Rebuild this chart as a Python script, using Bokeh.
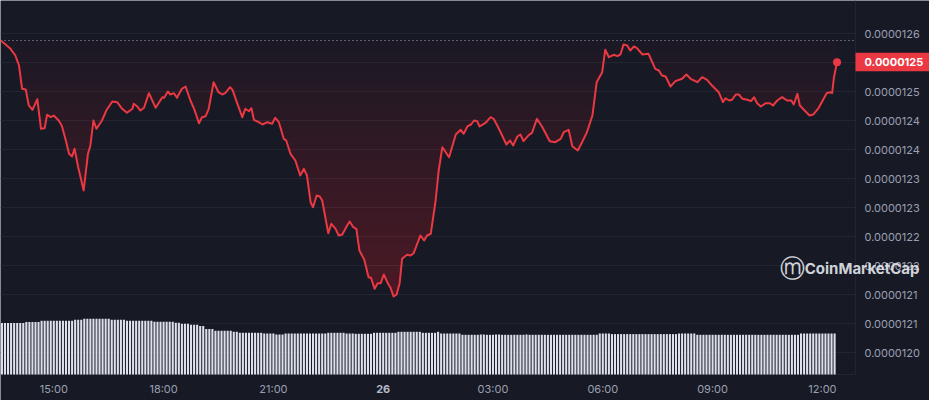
import numpy as np
from bokeh.plotting import figure
from bokeh.models import Range1d, Label
from bokeh.embed import file_html
from bokeh.resources import INLINE
from bokeh.core.properties import value

# ---------------- data ----------------
PRICE_UNIT = 1e-7  # prices below are in units of 1e-7

times = [
    "13:33", "13:41", "13:49", "13:57", "14:03", "14:08", "14:14", "14:19", "14:25", "14:33",
    "14:39", "14:45", "14:49", "14:55", "15:00", "15:08", "15:13", "15:19", "15:25", "15:30",
    "15:34", "15:40", "15:49", "15:56", "16:00", "16:05", "16:10", "16:19", "16:26", "16:36",
    "16:44", "16:52", "17:00", "17:09", "17:11", "17:17", "17:22", "17:28", "17:36", "17:47",
    "17:58", "18:01", "18:07", "18:11", "18:17", "18:22", "18:30", "18:36", "18:44", "18:50",
    "18:58", "19:03", "19:09", "19:14", "19:22", "19:30", "19:36", "19:41", "19:49", "19:53",
    "20:01", "20:09", "20:14", "20:20", "20:24", "20:28", "20:36", "20:42", "20:50", "20:58",
    "21:03", "21:09", "21:17", "21:21", "21:28", "21:36", "21:44", "21:50", "21:55", "22:01",
    "22:05", "22:11", "22:16", "22:20", "22:30", "22:35", "22:42", "22:47", "22:53", "23:00",
    "23:05", "23:11", "23:16", "23:21", "23:29", "23:36", "23:40", "23:46", "23:51", "23:56",
    "00:01", "00:08", "00:12", "00:17", "00:22", "00:27", "00:31", "00:39", "00:45", "00:50",
    "01:01", "01:07", "01:12", "01:18", "01:26", "01:31", "01:37", "01:48", "01:59", "02:07",
    "02:12", "02:18", "02:24", "02:29", "02:34", "02:38", "02:45", "02:49", "02:56", "03:01",
    "03:07", "03:15", "03:22", "03:28", "03:33", "03:40", "03:45", "03:50", "03:59", "04:04",
    "04:12", "04:21", "04:33", "04:42", "04:51", "04:56", "05:04", "05:10", "05:19", "05:26",
    "05:34", "05:43", "05:50", "05:59", "06:04", "06:10", "06:18", "06:24", "06:29", "06:34",
    "06:40", "06:45", "06:51", "06:56", "07:05", "07:15", "07:26", "07:32", "07:37", "07:43",
    "07:51", "07:59", "08:10", "08:17", "08:24", "08:35", "08:43", "08:51", "08:59", "09:10",
    "09:17", "09:21", "09:27", "09:32", "09:38", "09:43", "09:49", "09:57", "10:03", "10:08",
    "10:13", "10:19", "10:27", "10:34", "10:39", "10:46", "10:54", "11:02", "11:09", "11:13",
    "11:19", "11:23", "11:32", "11:39", "11:45", "11:54", "12:07", "12:12", "12:16", "12:19",
    "12:24",
]

prices_e7 = [
    125.879, 125.810, 125.736, 125.621, 125.448, 125.047, 125.034, 124.759, 124.684, 124.867,
    124.357, 124.367, 124.598, 124.557, 124.586, 124.500, 124.414, 124.184, 123.926, 123.879,
    124.012, 123.695, 123.293, 123.926, 124.069, 124.500, 124.357, 124.500, 124.672, 124.828,
    124.816, 124.702, 124.633, 124.702, 124.788, 124.741, 124.672, 124.719, 124.971, 124.719,
    124.902, 124.891, 125.000, 124.948, 124.971, 124.891, 125.047, 125.086, 124.845, 124.702,
    124.453, 124.557, 124.574, 124.702, 125.160, 124.988, 124.948, 124.971, 125.074, 125.029,
    124.788, 124.557, 124.702, 124.660, 124.712, 124.512, 124.471, 124.431, 124.471, 124.443,
    124.547, 124.471, 124.184, 124.155, 123.926, 123.810, 123.552, 123.667, 123.552, 123.091,
    123.005, 123.207, 123.190, 123.121, 122.557, 122.719, 122.633, 122.517, 122.534, 122.672,
    122.759, 122.660, 122.633, 122.259, 122.098, 121.798, 121.788, 121.598, 121.695, 121.695,
    121.845, 121.684, 121.616, 121.466, 121.500, 121.695, 122.116, 122.184, 122.172, 122.212,
    122.517, 122.431, 122.517, 122.547, 123.121, 123.638, 124.040, 123.867, 124.259, 124.340,
    124.271, 124.397, 124.431, 124.500, 124.488, 124.397, 124.443, 124.471, 124.557, 124.529,
    124.414, 124.241, 124.086, 124.155, 124.069, 124.224, 124.259, 124.143, 124.253, 124.288,
    124.529, 124.384, 124.143, 124.126, 124.184, 124.298, 124.340, 124.057, 123.983, 124.126,
    124.298, 124.586, 125.160, 125.333, 125.719, 125.591, 125.633, 125.609, 125.638, 125.810,
    125.793, 125.707, 125.776, 125.747, 125.638, 125.650, 125.391, 125.362, 125.276, 125.259,
    125.086, 125.178, 125.219, 125.293, 125.219, 125.160, 125.247, 125.202, 125.103, 124.988,
    124.816, 124.884, 124.845, 124.857, 124.948, 124.948, 124.874, 124.857, 124.833, 124.902,
    124.798, 124.741, 124.798, 124.798, 124.759, 124.845, 124.902, 124.845, 124.845, 124.776,
    124.960, 124.759, 124.660, 124.586, 124.603, 124.719, 124.971, 124.988, 124.971, 125.247,
    125.505,
]

# 5-minute volume bars, first bar at 13:35 (arbitrary units)
volume_start = "13:35"
volumes = [
    51.4, 51.4, 51.4, 51.4, 51.4, 51.4, 51.4, 51.4, 52.4, 52.4, 52.4, 52.4,
    52.4, 53.7, 53.7, 53.7, 53.7, 53.7, 53.7, 53.7, 53.7, 53.7, 53.7, 53.7,
    54.7, 54.7, 54.7, 55.7, 55.7, 55.7, 55.7, 55.7, 55.7, 55.7, 55.7, 55.7,
    54.7, 54.7, 54.7, 54.7, 54.7, 53.7, 53.7, 53.7, 53.7, 53.7, 53.7, 53.7,
    53.7, 53.7, 52.7, 52.7, 52.7, 52.7, 52.7, 52.7, 52.7, 51.7, 51.7, 50.7,
    50.7, 50.7, 49.7, 49.7, 49.7, 48.4, 48.4, 45.4, 45.4, 45.4, 43.7, 43.7,
    43.7, 43.7, 43.7, 43.7, 42.7, 42.7, 41.7, 41.7, 41.7, 41.7, 41.7, 41.7,
    41.7, 41.7, 41.0, 41.0, 41.0, 41.0, 40.0, 40.0, 40.0, 41.0, 41.0, 41.0,
    41.0, 41.0, 41.0, 41.0, 41.0, 41.0, 41.0, 41.0, 41.0, 41.0, 41.0, 41.7,
    41.7, 41.7, 41.7, 41.7, 41.7, 41.0, 41.0, 41.0, 40.7, 40.7, 40.7, 40.7,
    40.7, 40.7, 41.7, 41.7, 41.7, 41.7, 41.7, 41.7, 41.7, 41.7, 42.7, 42.7,
    42.7, 42.7, 42.7, 42.7, 42.7, 42.7, 41.7, 41.7, 41.7, 41.7, 41.7, 42.7,
    41.0, 41.0, 41.0, 41.0, 41.0, 41.0, 41.0, 39.7, 39.7, 39.7, 39.7, 39.7,
    39.7, 40.0, 40.0, 39.7, 39.7, 39.7, 40.0, 40.0, 39.7, 39.7, 39.7, 39.7,
    39.7, 39.7, 39.7, 39.7, 40.0, 39.7, 39.7, 39.7, 39.7, 39.7, 39.7, 39.7,
    39.7, 39.7, 39.7, 39.7, 39.7, 39.7, 39.7, 39.7, 39.7, 39.7, 39.7, 39.7,
    39.7, 39.7, 39.7, 39.7, 41.0, 41.0, 41.0, 41.0, 40.4, 40.4, 40.4, 40.4,
    40.4, 40.4, 40.4, 40.4, 40.4, 40.4, 40.4, 40.4, 40.4, 40.4, 40.4, 40.4,
    40.4, 40.4, 40.4, 40.4, 40.4, 40.4, 41.0, 41.0, 41.0, 41.0, 41.0, 41.0,
    39.7, 39.7, 39.7, 39.7, 39.7, 39.7, 39.7, 39.7, 39.7, 39.7, 39.7, 39.7,
    39.7, 39.7, 39.7, 39.7, 39.7, 39.7, 39.7, 39.7, 39.7, 39.7, 39.7, 39.7,
    39.7, 39.7, 39.7, 39.7, 39.7, 39.7, 39.7, 39.7, 39.7, 39.7, 41.0, 41.0,
    41.0, 41.0, 41.0, 41.0, 41.0, 41.0, 41.0, 41.0, 41.0, 41.0,
]

x_tick_hours = [15, 18, 21, 24, 27, 30, 33, 36]
x_tick_labels = ["15:00", "18:00", "21:00", "26", "03:00", "06:00", "09:00", "12:00"]

y_tick_values_e7 = [126.0, 125.5, 125.0, 124.5, 124.0, 123.5, 123.0, 122.5, 122.0, 121.5, 121.0, 120.5]
y_tick_labels = ["0.0000126", "0.0000125", "0.0000125", "0.0000124", "0.0000124", "0.0000123",
                 "0.0000123", "0.0000122", "0.0000122", "0.0000121", "0.0000121", "0.0000120"]
last_price_label = "0.0000125"

# ---------------- helpers ----------------
def to_hours(labels):
    out, day, prev = [], 0, -1.0
    for s in labels:
        h, m = s.split(":")
        v = int(h) + int(m) / 60.0
        if v < prev:
            day += 24
        prev = v
        out.append(v + day)
    return np.array(out)

t = to_hours(times)
price = np.array(prices_e7) * PRICE_UNIT
vh, vm = volume_start.split(":")
vol_t = int(vh) + int(vm) / 60.0 + np.arange(len(volumes)) * (5.0 / 60.0)

# ---------------- layout / style ----------------
W, H = 929, 400
PLOT_W, PLOT_H = 855, 374          # price pane (right axis strip & time strip outside)
T0, PX_PER_H = 13.544, 36.6        # time scale
P_TOP_E7, PX_PER_E7 = 126.569, 58.0  # price scale

def tx(px):
    return T0 + px / PX_PER_H

def py(px):
    return (P_TOP_E7 - px / PX_PER_E7) * PRICE_UNIT

BG = "#171924"
GRID = "#222531"
RED = "#ea3943"
TXT = "#9aa0b2"
FONT = "Inter"

p = figure(width=W, height=H, output_backend="svg", toolbar_location=None,
           x_range=Range1d(tx(0), tx(W)), y_range=Range1d(py(H), py(0)),
           x_axis_location=None, y_axis_location=None,
           min_border=0, min_border_left=0, min_border_right=0,
           min_border_top=0, min_border_bottom=0)
p.background_fill_color = BG
p.border_fill_color = BG
p.outline_line_color = None
p.grid.visible = False

# volume scale: 0 sits on the bottom line of the price pane
p.extra_y_ranges = {"vol": Range1d(-(H - PLOT_H), PLOT_H)}

# horizontal grid lines (stop at the price axis)
yt = np.array(y_tick_values_e7) * PRICE_UNIT
p.segment(x0=tx(0), x1=tx(PLOT_W), y0=yt, y1=yt, line_color=GRID, line_width=1)
# axis frame lines
p.segment(x0=[tx(PLOT_W), tx(0)], x1=[tx(PLOT_W), tx(PLOT_W)],
          y0=[py(0), py(PLOT_H)], y1=[py(PLOT_H), py(PLOT_H)], line_color=GRID, line_width=1)

# volume bars
p.vbar(x=vol_t, top=volumes, bottom=0, width=5.0 / 60.0 * 0.68, y_range_name="vol",
       fill_color="#dde1eb", line_color=None)

# gradient fill between opening price and price line
base = price[0]
vmin = price.min()
N = 24
p.varea(x=t, y1=np.minimum(price, base), y2=base, fill_color=RED, fill_alpha=0.015)
for k in range(N):
    lvl = base - (base - vmin) * k / N
    p.varea(x=t, y1=np.minimum(price, lvl), y2=lvl, fill_color=RED, fill_alpha=0.0115)

# opening price dotted line
p.segment(x0=tx(0), x1=tx(PLOT_W - 2), y0=base, y1=base, line_color="#a9aebb",
          line_dash="1 3", line_width=1)

# price line and last point
p.line(t, price, line_color=RED, line_width=2, line_join="round")
p.scatter(x=[t[-1]], y=[price[-1]], size=8, fill_color=RED, line_color=None)

# price axis labels
p.text(x=tx(PLOT_W + 9), y=yt, text=y_tick_labels, text_align="left", text_baseline="middle",
       text_font=value(FONT), text_font_size="11px", text_color=TXT)

# time axis labels ("26" bold)
reg = [i for i, s in enumerate(x_tick_labels) if s != "26"]
p.text(x=[x_tick_hours[i] for i in reg], y=py(388), text=[x_tick_labels[i] for i in reg],
       text_align="center", text_baseline="middle", text_font=value(FONT),
       text_font_size="11px", text_color=TXT)
bold = [i for i, s in enumerate(x_tick_labels) if s == "26"]
p.text(x=[x_tick_hours[i] for i in bold], y=py(388), text=[x_tick_labels[i] for i in bold],
       text_align="center", text_baseline="middle", text_font=value(FONT),
       text_font_size="11px", text_font_style="bold", text_color="#b4b9c8")

# last price tag
p.quad(left=tx(PLOT_W), right=tx(W), top=price[-1] + 9.5 / PX_PER_E7 * PRICE_UNIT,
       bottom=price[-1] - 9 / PX_PER_E7 * PRICE_UNIT, fill_color=RED, line_color=None)
p.text(x=tx(PLOT_W + 9), y=price[-1], text=[last_price_label], text_align="left",
       text_baseline="middle", text_font=value(FONT), text_font_size="11px",
       text_font_style="bold", text_color="white")

# watermark
p.add_layout(Label(x=792, y=H - 268, x_units="screen", y_units="screen", text="ⓜ",
                   text_align="center", text_baseline="middle", text_font="DejaVu Sans",
                   text_font_size="25px", text_color="#e3e6ec", text_alpha=0.92))
p.add_layout(Label(x=919, y=H - 268, x_units="screen", y_units="screen", text="CoinMarketCap",
                   text_align="right", text_baseline="middle", text_font=FONT,
                   text_font_size="15px", text_font_style="bold", text_color="#e3e6ec",
                   text_alpha=0.92))

html = file_html(p, INLINE)
html = html.replace("<body>", '<body style="background:%s">' % BG, 1)
open("out.html", "w").write(html)
